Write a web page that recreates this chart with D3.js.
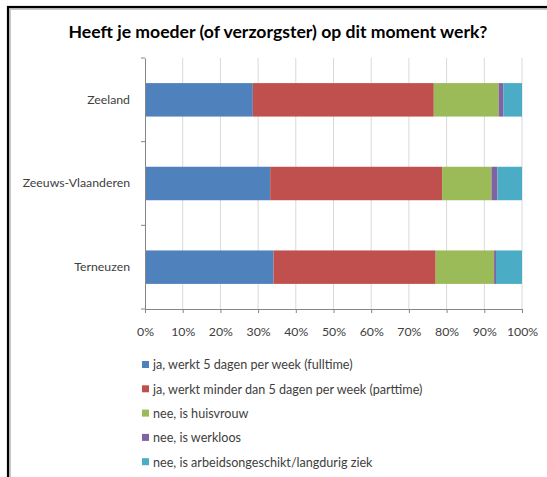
<!DOCTYPE html>
<html>
<head>
<meta charset="utf-8">
<script src="https://cdn.jsdelivr.net/npm/d3@7"></script>
<style>
  html, body { margin: 0; padding: 0; background: #fff; }
  svg { display: block; font-family: Lato, "Open Sans", sans-serif; }
</style>
</head>
<body>
<div id="chart"></div>
<script>
const regions = ['Zeeland', 'Zeeuws-Vlaanderen', 'Terneuzen'];
const answers = [
  'ja, werkt 5 dagen per week (fulltime)',
  'ja, werkt minder dan 5 dagen per week (parttime)',
  'nee, is huisvrouw',
  'nee, is werkloos',
  'nee, is arbeidsongeschikt/langdurig ziek'
];
const colors = ['#4F81BD', '#C0504D', '#9BBB59', '#8064A2', '#4BACC6'];
// percentages per region, same order as answers
const fulltime  = [28.6, 33.2, 34.1];
const parttime  = [48.0, 45.6, 43.0];
const huisvrouw = [17.2, 13.1, 15.5];
const werkloos  = [1.3, 1.6, 0.5];
const ziek      = [4.9, 6.5, 6.9];
const xTicks = [0, 10, 20, 30, 40, 50, 60, 70, 80, 90, 100];

const W = 547, H = 477;
const svg = d3.select('#chart').append('svg').attr('width', W).attr('height', H);

// frame (screenshot border)
svg.append('rect').attr('x', 10).attr('y', 9).attr('width', W).attr('height', H)
  .attr('fill', 'none').attr('stroke', '#c8c8c8').attr('stroke-width', 2);
svg.append('rect').attr('x', 8).attr('y', 7).attr('width', W).attr('height', H)
  .attr('fill', 'none').attr('stroke', '#000').attr('stroke-width', 2.2);

svg.append('text').attr('x', 278).attr('y', 38).attr('text-anchor', 'middle')
  .attr('font-weight', 700).attr('font-size', 17.6).attr('fill', '#000')
  .text('Heeft je moeder (of verzorgster) op dit moment werk?');

const series = [fulltime, parttime, huisvrouw, werkloos, ziek];
const rows = regions.map((r, i) => {
  const o = { region: r };
  answers.forEach((a, k) => { o[a] = series[k][i]; });
  return o;
});
const stacked = d3.stack().keys(answers)
  .offset(d3.stackOffsetExpand)(rows);

const x = d3.scaleLinear().domain([0, 1]).range([145, 522]);
const y = d3.scaleBand().domain(regions).range([58, 309]).paddingInner(0.6).paddingOuter(0.3);

// gridlines
svg.append('g').selectAll('line').data(xTicks.slice(1)).join('line')
  .attr('x1', d => x(d / 100)).attr('x2', d => x(d / 100))
  .attr('y1', 58).attr('y2', 309)
  .attr('stroke', '#d9d9d9').attr('stroke-width', 1);

svg.append('g').selectAll('g').data(stacked).join('g')
  .attr('fill', (d, i) => colors[i])
  .selectAll('rect').data(d => d).join('rect')
  .attr('x', d => x(d[0])).attr('width', d => x(d[1]) - x(d[0]))
  .attr('y', d => y(d.data.region)).attr('height', y.bandwidth());

// x axis
const xAxis = svg.append('g').attr('transform', 'translate(0,309)')
  .call(d3.axisBottom(x).tickValues(xTicks.map(t => t / 100)).tickSize(4)
    .tickFormat(d => Math.round(d * 100) + '%'));
xAxis.select('.domain').attr('stroke', '#868686');
xAxis.selectAll('.tick line').attr('stroke', '#868686');
xAxis.selectAll('.tick text').attr('font-family', 'Lato, sans-serif').attr('font-size', 12.3)
  .attr('fill', '#404040').attr('dy', '0.71em').attr('y', 18);

// y axis
const yAxis = svg.append('g').attr('transform', 'translate(145,0)')
  .call(d3.axisLeft(y).tickSize(0).tickPadding(15));
yAxis.select('.domain').attr('stroke', '#868686');
yAxis.selectAll('.tick text').attr('font-family', 'Lato, sans-serif').attr('font-size', 12.3)
  .attr('fill', '#404040');
// category boundary ticks
const bounds = [58].concat(regions.map(r => y(r) + y.bandwidth() + y.step() * 0.3));
svg.append('g').selectAll('line').data(bounds).join('line')
  .attr('x1', 141).attr('x2', 145).attr('y1', d => d).attr('y2', d => d)
  .attr('stroke', '#868686');

// legend
const leg = svg.append('g').selectAll('g').data(answers).join('g')
  .attr('transform', (d, i) => `translate(142,${365 + i * 24.3})`);
leg.append('rect').attr('x', 0).attr('y', -4).attr('width', 7).attr('height', 7)
  .attr('fill', (d, i) => colors[i]);
leg.append('text').attr('x', 11).attr('y', 0).attr('dy', '0.35em')
  .attr('font-size', 12.6).attr('fill', '#404040').text(d => d);
</script>
</body>
</html>
